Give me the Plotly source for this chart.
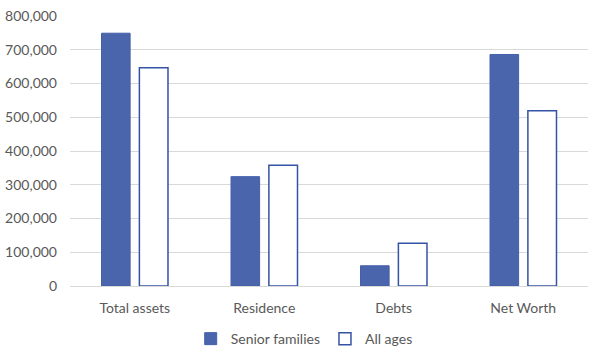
import plotly.graph_objects as go

categories = ["Total assets", "Residence", "Debts", "Net Worth"]
senior_families = [749000, 324000, 60000, 686000]
all_ages = [647000, 358000, 127000, 519000]
y_ticks = [0, 100000, 200000, 300000, 400000, 500000, 600000, 700000, 800000]
y_tick_labels = ["0", "100,000", "200,000", "300,000", "400,000", "500,000", "600,000", "700,000", "800,000"]

fig = go.Figure()
fig.add_trace(go.Bar(
    name="Senior families", x=categories, y=senior_families,
    marker=dict(color="#4A65AC", line=dict(color="#4560AA", width=1)),
))
fig.add_trace(go.Bar(
    name="All ages", x=categories, y=all_ages,
    marker=dict(color="white", line=dict(color="#3553A5", width=1.5)),
))

fig.update_layout(
    width=600, height=358,
    margin=dict(l=70, r=12, t=16, b=72, autoexpand=False),
    paper_bgcolor="white", plot_bgcolor="white",
    barmode="group", bargap=0.415, bargroupgap=0.245,
    font=dict(family="Lato, Open Sans, sans-serif", size=14, color="#595959"),
    showlegend=True,
    legend=dict(orientation="h", xref="container", x=0.507, xanchor="center",
                yref="container", y=0.053, yanchor="middle",
                font=dict(size=14, color="#595959"), itemwidth=30),
    xaxis=dict(showgrid=False, showline=False, ticks="", automargin=False,
               ticklabelstandoff=12, tickfont=dict(size=14, color="#595959")),
    yaxis=dict(range=[0, 800000], tickvals=y_ticks, ticktext=y_tick_labels,
               showgrid=True, gridcolor="#D9D9D9", gridwidth=1, automargin=False,
               zeroline=True, zerolinecolor="#D9D9D9", zerolinewidth=1,
               showline=False, ticks="", ticklen=0, ticklabelstandoff=12,
               tickfont=dict(size=14, color="#595959")),
)

fig.write_html("out.html", config={"displayModeBar": False},
               post_script="document.body.style.margin='0';")
